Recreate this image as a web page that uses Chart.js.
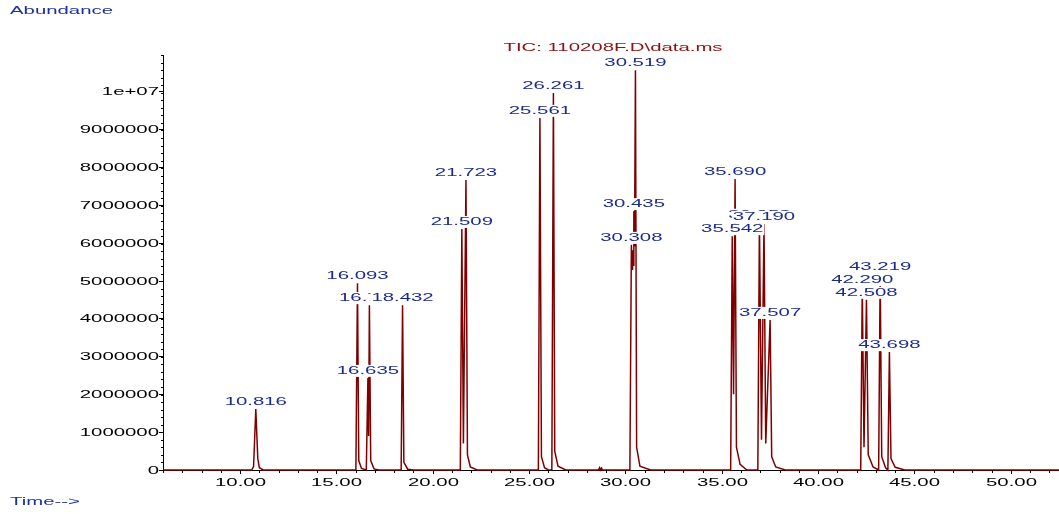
<!DOCTYPE html>
<html>
<head>
<meta charset="utf-8">
<script src="https://cdn.jsdelivr.net/npm/chart.js@4.4.1/dist/chart.umd.min.js"></script>
<style>
  html, body { margin: 0; padding: 0; background: #fff; }
  canvas { display: block; }
</style>
</head>
<body>
<canvas id="tic" width="1059" height="514"></canvas>
<script>
// TIC trace (time in min, abundance in counts)
const traceTime = [
  6.00, 10.60, 10.70, 10.816, 10.92, 11.00, 11.20,
  16.01, 16.093, 16.16, 16.30, 16.55, 16.635, 16.67, 16.711, 16.78, 16.95, 17.20,
  18.36, 18.432, 18.50, 18.70, 19.00,
  21.43, 21.509, 21.59, 21.723, 21.80, 21.95, 22.30,
  25.48, 25.561, 25.64, 25.80, 26.00, 26.18, 26.261, 26.33, 26.50, 26.90,
  28.60, 28.66, 28.70, 28.76, 28.80,
  30.23, 30.308, 30.34, 30.37, 30.40, 30.435, 30.47, 30.519, 30.58, 30.75, 31.30,
  35.46, 35.542, 35.61, 35.690, 35.76, 35.95, 36.30,
  36.87, 36.953, 37.06, 37.190, 37.28, 37.507, 37.59, 37.80, 38.30,
  42.21, 42.290, 42.38, 42.508, 42.60, 42.85, 43.14, 43.219, 43.30, 43.50,
  43.62, 43.698, 43.78, 44.00, 44.50, 52.50
];
const traceAbund = [
  0, 0, 90000, 1610000, 300000, 60000, 0,
  0, 4930000, 250000, 40000, 0, 2430000, 900000, 4350000, 250000, 30000, 0,
  0, 4350000, 200000, 20000, 0,
  0, 6360000, 700000, 7650000, 400000, 80000, 0,
  0, 9290000, 350000, 60000, 0, 0, 9950000, 500000, 100000, 0,
  0, 60000, 0, 50000, 0,
  0, 5940000, 5300000, 5800000, 5400000, 6830000, 5900000, 10550000, 600000, 100000, 0,
  0, 6170000, 2000000, 7680000, 600000, 150000, 0,
  0, 6550000, 800000, 6490000, 700000, 3960000, 350000, 80000, 0,
  0, 4830000, 600000, 4490000, 400000, 80000, 0, 5170000, 350000, 60000,
  0, 3110000, 300000, 70000, 0, 0
];

// labelled peaks (retention time, apex abundance)
const peakRT = [10.816, 16.093, 16.635, 16.711, 18.432, 21.509, 21.723, 25.561, 26.261,
  30.308, 30.435, 30.519, 35.542, 35.690, 36.953, 37.190, 37.507, 42.290, 42.508, 43.219, 43.698];
const peakAbund = [1610000, 4930000, 2430000, 4350000, 4350000, 6360000, 7650000, 9290000, 9950000,
  5940000, 6830000, 10550000, 6170000, 7680000, 6550000, 6490000, 3960000, 4830000, 4490000, 5170000, 3110000];

// axis labels
const yTickValues = [0, 1000000, 2000000, 3000000, 4000000, 5000000, 6000000, 7000000, 8000000, 9000000, 10000000];
const yTickLabels = ["0", "1000000", "2000000", "3000000", "4000000", "5000000", "6000000", "7000000", "8000000", "9000000", "1e+07"];
const xTickValues = [10, 15, 20, 25, 30, 35, 40, 45, 50];
const xTickLabels = ["10.00", "15.00", "20.00", "25.00", "30.00", "35.00", "40.00", "45.00", "50.00"];

const titleText = "TIC: 110208F.D\\data.ms";
const yAxisText = "Abundance";
const xAxisText = "Time-->";

const STRETCH = 1.85;
const FONT = "11px 'Liberation Sans', Arial, sans-serif";

// the source renders its text wide, so stretch it horizontally
function drawText(ctx, text, x, y, align, color, boxed) {
  ctx.save();
  ctx.font = FONT;
  const w = ctx.measureText(text).width * STRETCH;
  const left = align === "center" ? x - w / 2 : align === "right" ? x - w : x;
  if (boxed) {
    ctx.fillStyle = "#fff";
    ctx.fillRect(left - 1, y - 6, w + 2, 12);
  }
  ctx.fillStyle = color;
  ctx.textBaseline = "middle";
  ctx.textAlign = "left";
  ctx.translate(left, y);
  ctx.scale(STRETCH, 1);
  ctx.fillText(text, 0, 0);
  ctx.restore();
}

const decorations = {
  id: "decorations",
  afterDatasetsDraw(chart) {
    const ctx = chart.ctx;
    const xs = chart.scales.x;
    const ys = chart.scales.y;
    const area = chart.chartArea;

    ctx.save();
    ctx.strokeStyle = "#000";
    ctx.lineWidth = 1;

    // minor tick marks from the scales
    ys.ticks.forEach((t) => {
      if (t.value > ys.max) return;
      const py = Math.round(ys.getPixelForValue(t.value)) + 0.5;
      ctx.beginPath();
      ctx.moveTo(area.left - 2, py);
      ctx.lineTo(area.left, py);
      ctx.stroke();
    });
    xs.ticks.forEach((t) => {
      if (Math.abs(t.value - Math.round(t.value)) > 1e-6) return;
      const px = Math.round(xs.getPixelForValue(t.value)) + 0.5;
      ctx.beginPath();
      ctx.moveTo(px, area.bottom);
      ctx.lineTo(px, area.bottom + 3);
      ctx.stroke();
    });

    // labelled ticks
    yTickValues.forEach((v, i) => {
      const py = Math.round(ys.getPixelForValue(v)) + 0.5;
      ctx.beginPath();
      ctx.moveTo(area.left - 4, py);
      ctx.lineTo(area.left, py);
      ctx.stroke();
      drawText(ctx, yTickLabels[i], area.left - 4, py, "right", "#000", false);
    });
    xTickValues.forEach((v, i) => {
      const px = Math.round(xs.getPixelForValue(v)) + 0.5;
      ctx.beginPath();
      ctx.moveTo(px, area.bottom);
      ctx.lineTo(px, area.bottom + 4);
      ctx.stroke();
      drawText(ctx, xTickLabels[i], px, area.bottom + 13, "center", "#000", false);
    });
    ctx.restore();

    // peak labels, on white boxes, in retention order
    peakRT.forEach((rt, i) => {
      const px = xs.getPixelForValue(rt);
      const py = ys.getPixelForValue(peakAbund[i]);
      drawText(ctx, rt.toFixed(3), px, py - 7, "center", "#1b2a8f", true);
    });

    drawText(ctx, titleText, 613, 48, "center", "#8b1010", false);
    drawText(ctx, yAxisText, 10, 11, "left", "#1f2fa0", false);
    drawText(ctx, xAxisText, 10, 502, "left", "#1f2fa0", false);
  }
};

new Chart(document.getElementById("tic").getContext("2d"), {
  type: "line",
  data: {
    datasets: [{
      data: traceTime.map((t, i) => ({ x: t, y: traceAbund[i] })),
      borderColor: "#800000",
      borderWidth: 1.5,
      pointRadius: 0,
      tension: 0,
      clip: false,
    }],
  },
  options: {
    responsive: false,
    animation: false,
    devicePixelRatio: 1,
    layout: { padding: { top: 55, left: 0, right: 0, bottom: 0 } },
    plugins: { legend: { display: false }, tooltip: { enabled: false } },
    scales: {
      x: {
        type: "linear",
        min: 6,
        max: 52.5,
        ticks: { stepSize: 1, display: false, font: { size: 2 }, maxTicksLimit: 1000, autoSkip: false },
        grid: { display: false },
        border: { display: true, color: "#000", width: 1 },
        afterFit: (s) => { s.height = 44; },
      },
      y: {
        min: 0,
        max: 10950000,
        ticks: { stepSize: 200000, display: false, font: { size: 2 }, maxTicksLimit: 1000, autoSkip: false },
        grid: { display: false },
        border: { display: true, color: "#000", width: 1 },
        afterFit: (s) => { s.width = 163; },
      },
    },
  },
  plugins: [decorations],
});
</script>
</body>
</html>
